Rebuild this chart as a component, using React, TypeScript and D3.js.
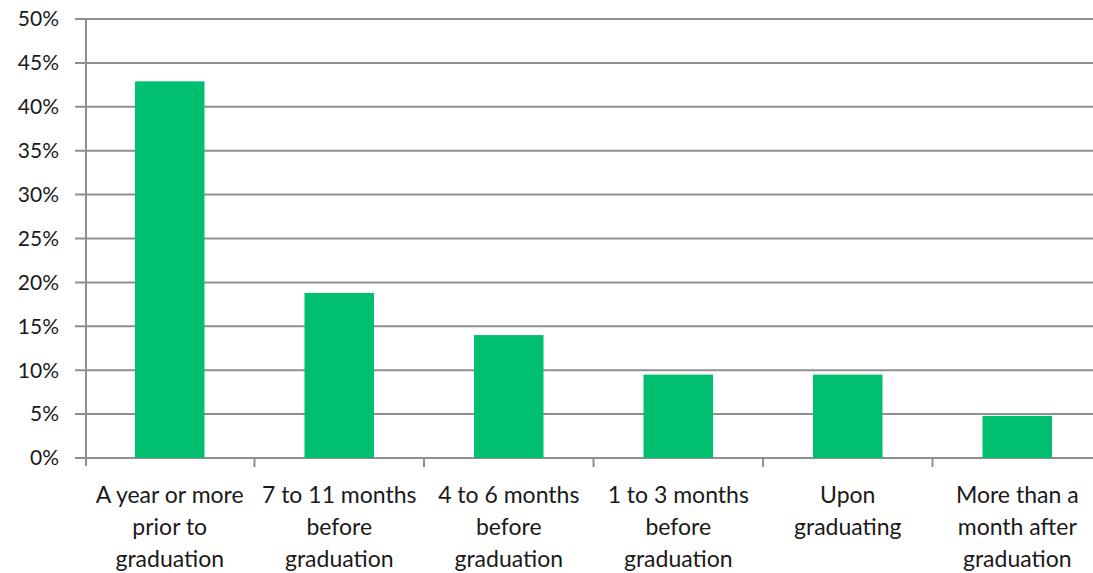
import React, { useEffect, useRef } from 'react';
import * as d3 from 'd3';

const categories = [
    ['A year or more', 'prior to', 'graduation'],
    ['7 to 11 months', 'before', 'graduation'],
    ['4 to 6 months', 'before', 'graduation'],
    ['1 to 3 months', 'before', 'graduation'],
    ['Upon', 'graduating'],
    ['More than a', 'month after', 'graduation'],
];
const values = [0.429, 0.188, 0.14, 0.095, 0.095, 0.048];
const yTicks = [0, 0.05, 0.1, 0.15, 0.2, 0.25, 0.3, 0.35, 0.4, 0.45, 0.5];

const App = () => {
    const svgRef = useRef(null);

    useEffect(() => {
        const width = 1093;
        const height = 573;
        const margin = { top: 19, bottom: 115, left: 86 };
        const svg = d3.select(svgRef.current);
        svg.selectAll('*').remove();

        // band scale runs a touch past the right edge, as in the original export
        const x = d3.scaleBand<number>()
            .domain(d3.range(categories.length))
            .range([85, 1102])
            .paddingInner(0.59)
            .paddingOuter(0.295);

        const y = d3.scaleLinear()
            .domain([0, 0.5])
            .range([height - margin.bottom, margin.top]);

        const font = 'Lato, "Open Sans", sans-serif';
        const grid = '#8f8f8f';

        // gridlines + y tick marks
        svg.append('g')
            .selectAll('line')
            .data(yTicks)
            .join('line')
            .attr('x1', margin.left - 11)
            .attr('x2', width)
            .attr('y1', d => y(d))
            .attr('y2', d => y(d))
            .attr('stroke', grid)
            .attr('stroke-width', 2);

        // y labels
        svg.append('g')
            .selectAll('text')
            .data(yTicks)
            .join('text')
            .attr('x', 59)
            .attr('y', d => y(d))
            .attr('dy', '0.35em')
            .attr('text-anchor', 'end')
            .attr('font-family', font)
            .attr('font-size', 21)
            .attr('fill', '#1a1a1a')
            .text(d => d3.format('.0%')(d));

        // y axis line
        svg.append('line')
            .attr('x1', margin.left)
            .attr('x2', margin.left)
            .attr('y1', y(0.5))
            .attr('y2', y(0) + 8)
            .attr('stroke', grid)
            .attr('stroke-width', 2);

        // category boundary ticks
        const step = x.step();
        svg.append('g')
            .selectAll('line')
            .data(d3.range(1, categories.length))
            .join('line')
            .attr('x1', i => 85 + i * step)
            .attr('x2', i => 85 + i * step)
            .attr('y1', y(0))
            .attr('y2', y(0) + 9)
            .attr('stroke', grid)
            .attr('stroke-width', 2);

        // bars
        svg.append('g')
            .selectAll('rect')
            .data(values)
            .join('rect')
            .attr('x', (d, i) => x(i))
            .attr('width', x.bandwidth())
            .attr('y', d => y(d))
            .attr('height', d => y(0) - y(d))
            .attr('fill', '#00bf6f');

        // x labels
        const labels = svg.append('g')
            .selectAll('text')
            .data(categories)
            .join('text')
            .attr('x', (d, i) => x(i) + x.bandwidth() / 2)
            .attr('y', 503)
            .attr('text-anchor', 'middle')
            .attr('font-family', font)
            .attr('font-size', 23)
            .attr('fill', '#1a1a1a');

        labels.selectAll('tspan')
            .data(d => d)
            .join('tspan')
            .attr('x', function () { return (this.parentNode as SVGTextElement).getAttribute('x'); })
            .attr('dy', (d, i) => (i === 0 ? 0 : 32))
            .text(d => d);
    }, []);

    return (
        <svg
            ref={svgRef}
            width={1093}
            height={573}
            style={{ position: 'absolute', top: 0, left: 0, background: '#fff' }}
        />
    );
};

export default App;
